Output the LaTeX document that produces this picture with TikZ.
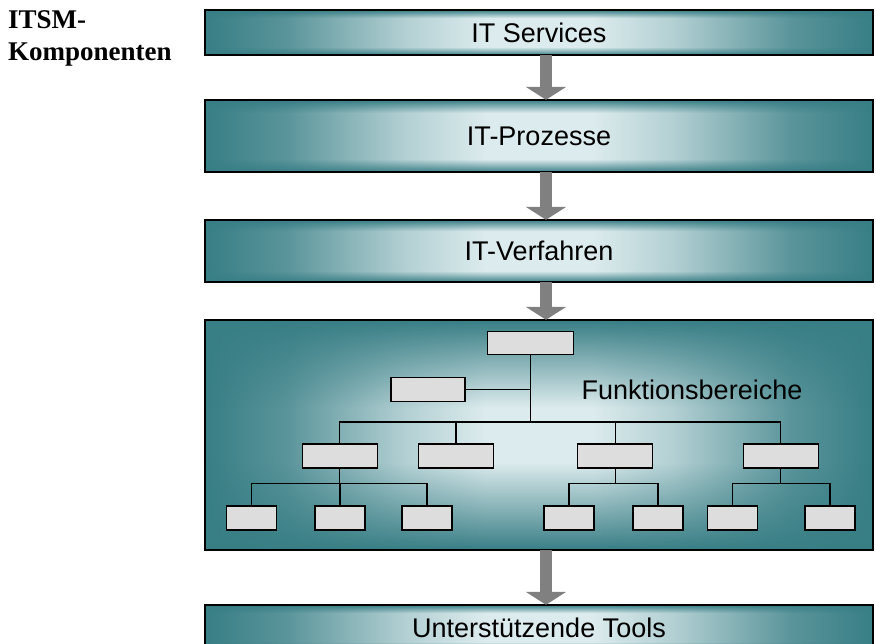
\documentclass[tikz,border=0pt]{standalone}
\usepackage{fontspec}
\setmainfont{Liberation Sans}
\newfontfamily\headingfont{Liberation Serif}
\usetikzlibrary{arrows.meta,fadings,positioning}
\definecolor{deepteal}{RGB}{56,126,133}
\definecolor{paleteal}{RGB}{220,235,237}
\definecolor{chartgrey}{RGB}{221,221,221}
\definecolor{arrowgrey}{RGB}{128,128,128}
\pgfdeclarehorizontalshading{layershade}{100bp}{color(0bp)=(deepteal); color(25bp)=(deepteal); color(31bp)=(deepteal!80!paleteal); color(40bp)=(deepteal!25!paleteal); color(46bp)=(paleteal); color(54bp)=(paleteal); color(60bp)=(deepteal!25!paleteal); color(69bp)=(deepteal!80!paleteal); color(75bp)=(deepteal); color(100bp)=(deepteal)}
\pgfdeclareverticalshading{thinedgeshade}{100bp}{color(0bp)=(pgftransparent!0); color(25bp)=(pgftransparent!0); color(34bp)=(pgftransparent!100); color(66bp)=(pgftransparent!100); color(75bp)=(pgftransparent!0); color(100bp)=(pgftransparent!0)}
\pgfdeclarefading{thinedge}{\pgfuseshading{thinedgeshade}}
\pgfdeclareverticalshading{wideedgeshade}{100bp}{color(0bp)=(pgftransparent!0); color(25bp)=(pgftransparent!0); color(44bp)=(pgftransparent!100); color(56bp)=(pgftransparent!100); color(75bp)=(pgftransparent!0); color(100bp)=(pgftransparent!0)}
\pgfdeclarefading{wideedge}{\pgfuseshading{wideedgeshade}}
\tikzset{
  layerbox/.style={shade, shading=layershade, minimum width=668pt, inner sep=0pt,
    font=\fontsize{27}{32}\selectfont,
    postaction={fill=deepteal, path fading=#1},
    postaction={draw=black, line width=1.3pt}},
  layerbox/.default=thinedge,
  unitbox/.style={draw=black, fill=chartgrey, line width=1.1pt, inner sep=0pt, minimum height=24pt},
  flowarrow/.style={draw=arrowgrey, line width=12pt, -{Triangle[width=40pt,length=13pt]}},
  treeline/.style={draw=black, line width=1.1pt}
}
\begin{document}
\begin{tikzpicture}[x=1pt,y=-1pt]
\clip (0,0) rectangle (876,644);
\node[anchor=north west, align=left, inner sep=0pt, font=\headingfont\bfseries\fontsize{27}{32}\selectfont] (heading) at (8,10) {ITSM-\\Komponenten};
\node[layerbox, minimum height=45pt] (services) at (539,32.5) {IT Services};
\node[layerbox, minimum height=72pt] (prozesse) at (539,136) {IT-Prozesse};
\node[layerbox, minimum height=62pt] (verfahren) at (539,251) {IT-Verfahren};
\node[layerbox=wideedge, minimum height=230pt] (bereiche) at (539,435) {};
\node[layerbox, minimum height=45pt] (tools) at (539,627.5) {Unterstützende Tools};
\foreach \a/\b in {services/prozesse, prozesse/verfahren, verfahren/bereiche, bereiche/tools}
  \draw[flowarrow] ([xshift=7pt]\a.south) -- ([xshift=7pt]\b.north);
\node[font=\fontsize{27}{32}\selectfont] (bereichlabel) at (692,390) {Funktionsbereiche};
\node[unitbox, minimum width=86pt, minimum height=23pt] (head) at (530.6,343.4) {};
\node[unitbox, minimum width=74pt] (side) at (428,389.7) {};
\foreach \n/\x in {lvA/339.8, lvB/456, lvC/615.3, lvD/780.6}
  \node[unitbox, minimum width=75pt] (\n) at (\x,456) {};
\foreach \n/\x in {subA/251.7, subB/340, subC/427, subD/569, subE/658, subF/732.5, subG/830}
  \node[unitbox, minimum width=50pt] (\n) at (\x,518) {};
\coordinate (bus) at (530.6,422);
\draw[treeline] (head.south) -- (bus);
\draw[treeline] (side.east) -- (side.east -| bus);
\foreach \n in {lvA, lvB, lvC, lvD}
  \draw[treeline] (bus) -| (\n.north);
\coordinate (forkA) at ([yshift=-15pt]lvA.south);
\coordinate (forkC) at ([yshift=-15pt]lvC.south);
\coordinate (forkD) at ([yshift=-15pt]lvD.south);
\draw[treeline] (lvA.south) -- (forkA);
\draw[treeline] (lvC.south) -- (forkC);
\draw[treeline] (lvD.south) -- (forkD);
\foreach \f/\n in {forkA/subA, forkA/subB, forkA/subC, forkC/subD, forkC/subE, forkD/subF, forkD/subG}
  \draw[treeline] (\f) -| (\n.north);
\end{tikzpicture}
\end{document}
